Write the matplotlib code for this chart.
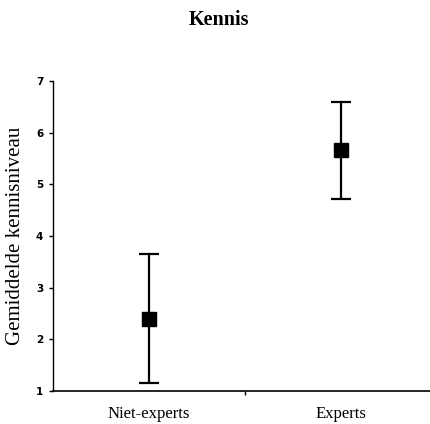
import matplotlib
matplotlib.use("Agg")
from matplotlib import pyplot as plt

# data
groups = ["Niet-experts", "Experts"]
means = [2.40, 5.66]
upper = [3.66, 6.60]
lower = [1.15, 4.72]
y_ticks = [1, 2, 3, 4, 5, 6, 7]

plt.rcParams["font.family"] = ["Liberation Serif", "DejaVu Serif"]


def main():
    fig = plt.figure(figsize=(4.31, 4.24), dpi=100)
    ax = fig.add_axes([0.123, 0.078, 0.877, 0.731])

    xs = [i + 0.5 for i in range(len(groups))]
    err_lo = [m - lo for m, lo in zip(means, lower)]
    err_hi = [hi - m for m, hi in zip(means, upper)]
    ax.errorbar(xs, means, yerr=[err_lo, err_hi], fmt="s", color="black",
                ecolor="black", markersize=10, elinewidth=1.6, capsize=7,
                capthick=1.6, clip_on=False)

    ax.set_xlim(0, 1.97)
    ax.set_ylim(1, 7)
    ax.set_yticks(y_ticks)
    ax.set_yticklabels([str(t) for t in y_ticks])
    for lab in ax.get_yticklabels():
        lab.set_fontfamily("DejaVu Sans")
        lab.set_fontsize(7.5)
        lab.set_fontweight("bold")
    ax.set_xticks([1])
    ax.set_xticklabels([""])
    ax.tick_params(axis="y", length=3, width=1, pad=4)
    ax.tick_params(axis="x", length=3, width=1)
    for i, g in enumerate(groups):
        ax.text(xs[i], -0.075, g, transform=ax.get_xaxis_transform(),
                ha="center", va="center", fontsize=12)

    for side in ["top", "right"]:
        ax.spines[side].set_visible(False)
    ax.spines["left"].set_linewidth(1)
    ax.spines["bottom"].set_linewidth(1.2)

    ax.set_ylabel("Gemiddelde kennisniveau", fontsize=15, labelpad=8)
    fig.text(0.508, 0.953, "Kennis", ha="center", va="center",
             fontsize=14.5, fontweight="bold")

    fig.savefig("out.png", dpi=100)
    plt.close(fig)


if __name__ == "__main__":
    main()
